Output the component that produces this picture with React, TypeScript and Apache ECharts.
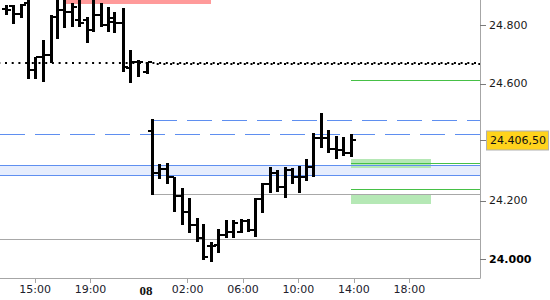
import React, { useEffect, useRef } from "react";
import * as echarts from "echarts";

// Bar times in hours since day-1 midnight (24 = 00:00 of day 2)
const barTime = [
  12.88, 13.39, 13.96, 14.49, 15.0, 15.55, 16.13, 16.6, 17.11, 17.64, 18.17, 18.77, 19.2, 19.76, 20.24, 20.72,
  21.36, 21.87, 22.45, 23.05,
  23.41, 23.96, 24.5, 25.02, 25.58, 26.13, 26.66, 27.14, 27.67, 28.22, 28.77, 29.3, 29.83, 30.36, 30.86, 31.39,
  31.95, 32.47, 33.01, 33.53, 34.06, 34.54, 35.07, 35.6, 36.15, 36.71, 37.23, 37.77,
];
const barOpen = [
  24856, 24866, 24839, 24876, 24647, 24692, 24698, 24828, 24852, 24845, 24818, 24818, 24784, 24835, 24801, 24811,
  24808, 24654, 24675, 24640,
  24439, 24295, 24308, 24280, 24216, 24163, 24117, 24073, 24045, 24049, 24083, 24094, 24094, 24132, 24100, 24206,
  24257, 24296, 24248, 24305, 24280, 24280, 24316, 24414, 24414, 24376, 24374, 24364,
];
const barHigh = [
  24869, 24869, 24873, 24890, 24692, 24750, 24835, 24895, 24892, 24876, 24890, 24828, 24888, 24876, 24863, 24845,
  24859, 24716, 24681, 24675,
  24479, 24326, 24330, 24280, 24244, 24210, 24141, 24121, 24060, 24104, 24134, 24134, 24138, 24138, 24210, 24261,
  24317, 24305, 24317, 24312, 24319, 24343, 24433, 24499, 24442, 24422, 24417, 24428,
];
const barLow = [
  24835, 24804, 24825, 24616, 24616, 24606, 24671, 24753, 24791, 24794, 24794, 24739, 24777, 24794, 24777, 24774,
  24640, 24603, 24623, 24633,
  24220, 24275, 24257, 24163, 24117, 24090, 24060, 23998, 23992, 24022, 24073, 24073, 24090, 24094, 24077, 24158,
  24228, 24231, 24209, 24257, 24228, 24269, 24280, 24380, 24364, 24342, 24353, 24351,
];
const barClose = [
  24852, 24839, 24869, 24647, 24692, 24698, 24828, 24852, 24845, 24863, 24808, 24784, 24835, 24801, 24825, 24808,
  24657, 24675, 24675, 24675,
  24295, 24308, 24280, 24216, 24163, 24117, 24073, 24009, 24045, 24083, 24094, 24124, 24132, 24100, 24206, 24257,
  24296, 24248, 24305, 24280, 24280, 24316, 24414, 24414, 24376, 24374, 24364, 24406.5,
];

const lastPriceText = "24.406,50";

// Axis ranges / ticks
const timeMin = 12.47;
const timeMax = 47.1;
const priceMin = 23936;
const priceMax = 24886.5;
const xTickHours = [15, 19, 26, 30, 34, 38, 42];
const xLabelHours = [15, 19, 23, 26, 30, 34, 38, 42];
const xLabelTexts = ["15:00", "19:00", "08", "02:00", "06:00", "10:00", "14:00", "18:00"];
const yLabelValues = [24000, 24200, 24600, 24800];

// Session / zone boundaries (hours)
const day2Start = 23.43;
const zoneStart = 37.79;
const zoneEnd = 43.56;
const redStart = 17.23;
const redEnd = 27.69;

// Levels (price)
const dottedLevel = 24672;
const dottedLevel2 = 24669;
const blueDashHigh = 24476;
const blueDashLow = 24425;
const blueBand = [24288, 24322];
const grayLevelDay2 = 24222;
const grayLevelLow = 24066;
const greenLevels = [24611, 24327, 24239];
const greenBand1 = [24313, 24343];
const greenBand2 = [24190, 24222];
const redBand = [24873, 24886.5];

const FONT = "DejaVu Sans";

// crisp horizontal level line drawn through the axes' scales
function hline(level: number, from: number, to: number, stroke: string, width: number, dash?: number[], dashOffset = 0, z = 2) {
  return {
    type: "custom",
    silent: true,
    z,
    clip: true,
    data: [[from, to, level]],
    renderItem: (params: any, api: any) => {
      const p1 = api.coord([api.value(0), api.value(2)]);
      const p2 = api.coord([api.value(1), api.value(2)]);
      const off = width % 2 === 1 ? 0.5 : 0;
      const y = Math.round(p1[1] - off) + off;
      return {
        type: "line",
        shape: { x1: Math.round(p1[0]), y1: y, x2: Math.round(p2[0]), y2: y },
        style: { stroke, lineWidth: width, lineDash: dash || null, lineDashOffset: dashOffset },
      };
    },
  };
}

function band(t1: number, t2: number, v: number[], color: string, z = 1) {
  return {
    type: "custom",
    silent: true,
    z,
    data: [[t1, t2, v[0], v[1]]],
    renderItem: (params: any, api: any) => {
      const p1 = api.coord([api.value(0), api.value(3)]);
      const p2 = api.coord([api.value(1), api.value(2)]);
      const x1 = Math.round(p1[0]);
      const y1 = Math.round(p1[1]);
      const rect = echarts.graphic.clipRectByRect(
        { x: x1, y: y1, width: Math.round(p2[0]) - x1, height: Math.round(p2[1]) - y1 },
        {
          x: params.coordSys.x,
          y: params.coordSys.y,
          width: params.coordSys.width,
          height: params.coordSys.height,
        }
      );
      if (!rect) return null;
      return { type: "rect", shape: rect, style: { fill: color } };
    },
  };
}

export default function App() {
  const ref = useRef<HTMLDivElement>(null);

  useEffect(() => {
    if (!ref.current) return;
    const chart = echarts.init(ref.current, undefined, { renderer: "svg" });

    const ohlcData = barTime.map((t, i) => [t, barOpen[i], barHigh[i], barLow[i], barClose[i]]);
    const lastClose = barClose[barClose.length - 1];

    const blue = "#5f8ff0";
    const green = "#46c046";
    const gray = "#a8a8a8";

    const option: any = {
      animation: false,
      backgroundColor: "#ffffff",
      grid: { left: 0, top: 0, right: 70, bottom: 22, containLabel: false },
      xAxis: {
        type: "value",
        min: timeMin,
        max: timeMax,
        splitLine: { show: false },
        axisLine: { show: true, lineStyle: { color: "#a6a6a6", width: 1 } },
        axisTick: { show: true, customValues: xTickHours, length: 5, lineStyle: { color: "#a6a6a6" } },
        axisLabel: {
          customValues: xLabelHours,
          margin: 6,
          fontFamily: FONT,
          fontSize: 11,
          color: "#20202c",
          formatter: (v: number) => {
            const i = xLabelHours.indexOf(Math.round(v));
            if (i < 0) return "";
            const s = xLabelTexts[i];
            return s.indexOf(":") < 0 ? "{d|" + s + "}" : s;
          },
          rich: {
            d: { fontFamily: "Liberation Serif", fontWeight: "bold", fontSize: 13, color: "#111" },
          },
        },
      },
      yAxis: {
        type: "value",
        position: "right",
        min: priceMin,
        max: priceMax,
        scale: true,
        splitLine: { show: false },
        axisLine: { show: true, lineStyle: { color: "#a6a6a6", width: 1 } },
        axisTick: {
          show: true,
          customValues: [...yLabelValues, lastClose],
          length: 6,
          lineStyle: { color: "#7a7a7a" },
        },
        axisLabel: {
          customValues: yLabelValues,
          margin: 9,
          fontFamily: FONT,
          fontSize: 11,
          color: "#1a1a1a",
          formatter: (v: number) => {
            const s = (v / 1000).toFixed(3);
            return v === 24000 ? "{b|" + s + "}" : s;
          },
          rich: { b: { fontWeight: "bold", fontFamily: FONT, fontSize: 11, color: "#000" } },
        },
      },
      series: [
        band(redStart, redEnd, redBand, "#ff9a9a", 1),
        band(timeMin, timeMax, blueBand, "#e6edfd", 1),
        band(zoneStart, zoneEnd, greenBand1, "#b5e8b5", 1),
        band(zoneStart, zoneEnd, greenBand2, "#b5e8b5", 1),
        hline(grayLevelLow, timeMin, timeMax, gray, 1),
        hline(grayLevelDay2, day2Start, timeMax, gray, 1),
        hline(blueBand[0], timeMin, timeMax, blue, 1),
        hline(blueBand[1], timeMin, timeMax, blue, 1),
        hline(blueDashLow, timeMin, timeMax, blue, 1, [25, 10]),
        hline(blueDashHigh, day2Start, timeMax, blue, 1, [25, 10]),
        hline(greenLevels[0], zoneStart, timeMax, green, 1),
        hline(greenLevels[1], zoneStart, timeMax, green, 1),
        hline(greenLevels[2], zoneStart, timeMax, green, 1),
        hline(dottedLevel, timeMin, timeMax, "#000", 2, [2, 4.7], -5, 3),
        hline(dottedLevel2, day2Start, timeMax, "#000", 2, [2, 4.7], 2.3, 3),
        {
          type: "custom",
          clip: true,
          z: 5,
          data: ohlcData,
          renderItem: (params: any, api: any) => {
            const t = api.value(0);
            const pO = api.coord([t, api.value(1)]);
            const pH = api.coord([t, api.value(2)]);
            const pL = api.coord([t, api.value(3)]);
            const pC = api.coord([t, api.value(4)]);
            const x = Math.round(pH[0]);
            const yH = Math.round(pH[1]);
            const yL = Math.round(pL[1]);
            const yO = Math.round(pO[1]);
            const yC = Math.round(pC[1]);
            const style = { fill: "#000" };
            return {
              type: "group",
              children: [
                { type: "rect", shape: { x: x - 1, y: yH, width: 3, height: Math.max(2, yL - yH) }, style },
                { type: "rect", shape: { x: x - 4, y: yO - 1, width: 4, height: 2 }, style },
                { type: "rect", shape: { x: x + 1, y: yC - 1, width: 4, height: 2 }, style },
              ],
            };
          },
        },
        {
          type: "line",
          data: [
            [timeMin, lastClose],
            [timeMax, lastClose],
          ],
          symbol: "none",
          silent: true,
          z: 6,
          lineStyle: { width: 0, color: "rgba(0,0,0,0)" },
          markLine: {
            silent: true,
            symbol: ["none", "none"],
            lineStyle: { width: 0, color: "rgba(0,0,0,0)" },
            data: [{ yAxis: lastClose }],
            label: {
              show: true,
              position: "end",
              distance: 7,
              formatter: () => lastPriceText,
              fontFamily: FONT,
              fontSize: 11,
              color: "#111",
              backgroundColor: "#ffd31c",
              borderColor: "#b0b0b0",
              borderWidth: 1,
              padding: [4, 2, 3, 3],
            },
          },
        },
      ],
    };

    chart.setOption(option);
    return () => chart.dispose();
  }, []);

  return (
    <div
      ref={ref}
      style={{ position: "fixed", left: 0, top: 0, width: 550, height: 300, background: "#fff" }}
    />
  );
}
